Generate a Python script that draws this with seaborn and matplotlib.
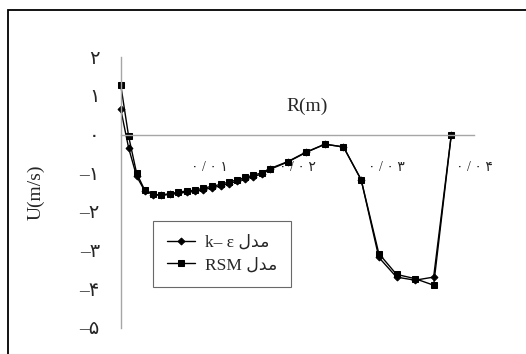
import numpy as np
import pandas as pd
import matplotlib
matplotlib.use("Agg")
import matplotlib.pyplot as plt
from matplotlib.patches import Rectangle
import seaborn as sns

# ---- data ----
r_rsm = [0.0, 0.0009, 0.0018, 0.0027, 0.0037, 0.0046, 0.0056, 0.0065, 0.0075,
         0.0084, 0.0093, 0.0103, 0.0113, 0.0122, 0.0132, 0.0141, 0.0150, 0.0160,
         0.0169, 0.0189, 0.0210, 0.0231, 0.0252, 0.0272, 0.0292, 0.0312, 0.0333,
         0.0354, 0.0374]
u_rsm = [1.29, -0.05, -1.00, -1.43, -1.55, -1.56, -1.53, -1.49, -1.46,
         -1.44, -1.39, -1.34, -1.29, -1.23, -1.17, -1.11, -1.05, -0.99,
         -0.88, -0.70, -0.45, -0.25, -0.32, -1.17, -3.08, -3.62, -3.73,
         -3.90, 0.0]

r_ke = [0.0, 0.0009, 0.0018, 0.0027, 0.0037, 0.0046, 0.0056, 0.0065, 0.0075,
        0.0084, 0.0093, 0.0103, 0.0113, 0.0122, 0.0132, 0.0141, 0.0150, 0.0160,
        0.0169, 0.0189, 0.0210, 0.0231, 0.0252, 0.0272, 0.0292, 0.0312, 0.0333,
        0.0354, 0.0374]
u_ke = [0.66, -0.35, -1.08, -1.45, -1.56, -1.57, -1.55, -1.52, -1.49,
        -1.47, -1.43, -1.38, -1.33, -1.27, -1.21, -1.15, -1.09, -1.02,
        -0.90, -0.71, -0.46, -0.25, -0.32, -1.17, -3.18, -3.69, -3.77,
        -3.69, 0.0]

label_ke = "k\u2013 \u03b5 " + "\ufedd\ufeaa\ufee3"
label_rsm = "RSM " + "\ufedd\ufeaa\ufee3"

x_ticks = [0.0, 0.01, 0.02, 0.03, 0.04]
x_ticklabels = ["", "\u06f0 / \u06f0 \u06f1", "\u06f0 / \u06f0 \u06f2",
                "\u06f0 / \u06f0 \u06f3", "\u06f0 / \u06f0 \u06f4"]
y_ticks = [2, 1, 0, -1, -2, -3, -4, -5]
y_ticklabels = ["\u06f2", "\u06f1", "\u06f0", "\u2013\u06f1", "\u2013\u06f2",
                "\u2013\u06f3", "\u2013\u06f4", "\u2013\u06f5"]

sns.set_style("white")
plt.rcParams['font.family'] = ['Liberation Serif', 'DejaVu Sans']

fig = plt.figure(figsize=(5.26, 3.54), dpi=100)
ax = fig.add_axes([120.7/526, 1-327.7/354, (474.3-120.7)/526, (327.7-57.3)/354])

df_ke = pd.DataFrame({"R": r_ke, "U": u_ke})
df_rsm = pd.DataFrame({"R": r_rsm, "U": u_rsm})

sns.lineplot(data=df_ke, x="R", y="U", ax=ax, color="black", lw=1.0,
             marker="D", markersize=3.5, markeredgecolor="black", label=label_ke,
             sort=False, estimator=None, clip_on=False)
sns.lineplot(data=df_rsm, x="R", y="U", ax=ax, color="black", lw=1.0,
             marker="s", markersize=4.5, markeredgecolor="black", label=label_rsm,
             sort=False, estimator=None, clip_on=False)

ax.set_xlim(0, 0.04)
ax.set_ylim(-5, 2)
ax.set_xticks(x_ticks)
ax.set_xticklabels(x_ticklabels, fontsize=14)
ax.set_yticks(y_ticks)
ax.set_yticklabels(y_ticklabels, fontsize=14)

gray = "#a6a6a6"
for s in ["top", "right"]:
    ax.spines[s].set_visible(False)
ax.spines["bottom"].set_position(("data", 0))
ax.spines["bottom"].set_color(gray)
ax.spines["left"].set_color(gray)
ax.spines["bottom"].set_linewidth(1.0)
ax.spines["left"].set_linewidth(1.0)
ax.tick_params(axis="x", direction="out", length=5, width=1, color=gray, pad=14)
ax.tick_params(axis="y", direction="out", length=6, width=1, color=gray, pad=9)

ax.set_xlabel("")
ax.set_ylabel("U(m/s)", fontsize=14, labelpad=25)
ax.text(0.0211, 0.72, "R(m)", fontsize=14, ha="center", va="center")

leg = ax.legend(loc="upper left", bbox_to_anchor=((153-120.7)/353.6, (327.7-221)/270.4),
                frameon=True, fancybox=False, fontsize=12.5, handlelength=1.6,
                borderpad=0.8, labelspacing=0.35, handletextpad=0.6, borderaxespad=0)
leg.get_frame().set_edgecolor("#444444")
leg.get_frame().set_linewidth(0.8)

fig.patches.append(Rectangle((8/526, -0.1), 1.2, 1-10/354+0.1, transform=fig.transFigure,
                             fill=False, edgecolor="black", lw=1.3))

fig.savefig("out.png", dpi=100)
